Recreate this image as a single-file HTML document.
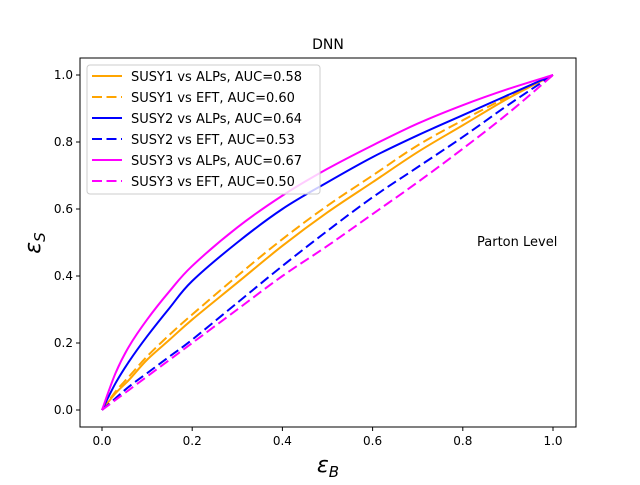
<!DOCTYPE html>
<html><head><meta charset="utf-8"><style>
body{margin:0;background:#fff}
svg text{font-family:"DejaVu Sans","Liberation Sans",sans-serif;fill:#000}
</style></head><body>
<svg width="640" height="480" xmlns="http://www.w3.org/2000/svg">
<rect width="640" height="480" fill="#fff"/>
<text x="328" y="49" font-size="14" text-anchor="middle">DNN</text>
<g id="plot"></g>
<rect x="80" y="58" width="496" height="369" fill="none" stroke="#000" stroke-width="1"/>
<g id="ticks"></g>
<text x="328" y="472" font-size="22" text-anchor="middle" font-style="italic">ε<tspan font-size="15" dy="5">B</tspan></text>
<text transform="translate(40,243) rotate(-90)" font-size="22" text-anchor="middle" font-style="italic">ε<tspan font-size="15" dy="5">S</tspan></text>
<text x="477" y="246" font-size="13">Parton Level</text>
<g id="legend">
<rect x="87" y="65" width="233" height="129" rx="3" fill="#fff" fill-opacity="0.8" stroke="#ccc"/>
</g>
</svg>
<script>
const xs=[0,0.03,0.06,0.1,0.15,0.2,0.3,0.4,0.5,0.6,0.7,0.8,0.9,1];
const s1alp=[0,0.05,0.09,0.15,0.21,0.27,0.38,0.49,0.59,0.68,0.77,0.85,0.93,1];
const s1eft=[0,0.055,0.10,0.16,0.225,0.285,0.40,0.51,0.61,0.70,0.79,0.865,0.935,1];
const s2alp=[0,0.08,0.145,0.22,0.305,0.385,0.50,0.60,0.68,0.755,0.82,0.88,0.94,1];
const s2eft=[0,0.035,0.07,0.11,0.16,0.21,0.32,0.43,0.535,0.635,0.725,0.815,0.91,1];
const s3alp=[0,0.11,0.19,0.27,0.355,0.43,0.545,0.64,0.72,0.79,0.855,0.91,0.958,1];
const s3eft=[0,0.03,0.06,0.10,0.15,0.20,0.30,0.40,0.49,0.585,0.68,0.78,0.885,1];
const tickLabels=["0.0","0.2","0.4","0.6","0.8","1.0"];
const tickVals=[0,0.2,0.4,0.6,0.8,1];
const X=v=>102+v*451, Y=v=>410-v*335;
const NS="http://www.w3.org/2000/svg";
const series=[
 {n:"SUSY1 vs ALPs, AUC=0.58",d:s1alp,c:"orange",dash:false,id:"susy1-alps"},
 {n:"SUSY1 vs EFT, AUC=0.60",d:s1eft,c:"orange",dash:true,id:"susy1-eft"},
 {n:"SUSY2 vs ALPs, AUC=0.64",d:s2alp,c:"blue",dash:false,id:"susy2-alps"},
 {n:"SUSY2 vs EFT, AUC=0.53",d:s2eft,c:"blue",dash:true,id:"susy2-eft"},
 {n:"SUSY3 vs ALPs, AUC=0.67",d:s3alp,c:"magenta",dash:false,id:"susy3-alps"},
 {n:"SUSY3 vs EFT, AUC=0.50",d:s3eft,c:"magenta",dash:true,id:"susy3-eft"}];
const plot=document.getElementById('plot'),leg=document.getElementById('legend'),tk=document.getElementById('ticks');
function smooth(pts){
 let d='M'+pts[0][0]+','+pts[0][1];
 for(let i=0;i<pts.length-1;i++){
  const p0=pts[Math.max(0,i-1)],p1=pts[i],p2=pts[i+1],p3=pts[Math.min(pts.length-1,i+2)];
  const c1=[p1[0]+(p2[0]-p0[0])/6,p1[1]+(p2[1]-p0[1])/6];
  const c2=[p2[0]-(p3[0]-p1[0])/6,p2[1]-(p3[1]-p1[1])/6];
  d+=' C'+c1[0]+','+c1[1]+' '+c2[0]+','+c2[1]+' '+p2[0]+','+p2[1];
 }
 return d;
}
series.forEach((s,i)=>{
 const p=document.createElementNS(NS,'path');
 p.setAttribute('d',smooth(xs.map((x,j)=>[X(x),Y(s.d[j])])));
 p.setAttribute('fill','none');p.setAttribute('stroke',s.c);p.setAttribute('stroke-width','2');
 if(s.dash)p.setAttribute('stroke-dasharray','10,4.5');
 
 
 plot.appendChild(p);
 const y=76+i*21;
 const l=document.createElementNS(NS,'line');
 l.setAttribute('x1',92);l.setAttribute('x2',122);l.setAttribute('y1',y);l.setAttribute('y2',y);
 l.setAttribute('stroke',s.c);l.setAttribute('stroke-width','2');
 if(s.dash)l.setAttribute('stroke-dasharray','10,4.5');
 
 
 leg.appendChild(l);
 const t=document.createElementNS(NS,'text');
 t.setAttribute('x',131);t.setAttribute('y',y+5);t.setAttribute('font-size','13');
 t.textContent=s.n;
 
 
 leg.appendChild(t);
});
tickVals.forEach((v,i)=>{
 const a=document.createElementNS(NS,'line');
 a.setAttribute('x1',X(v));a.setAttribute('x2',X(v));a.setAttribute('y1',427);a.setAttribute('y2',431);a.setAttribute('stroke','#000');
 
 
 tk.appendChild(a);
 const t=document.createElementNS(NS,'text');
 t.setAttribute('x',X(v));t.setAttribute('y',445);t.setAttribute('font-size','12');t.setAttribute('text-anchor','middle');
 t.textContent=tickLabels[i];
 
 
 tk.appendChild(t);
 const b=document.createElementNS(NS,'line');
 b.setAttribute('x1',76);b.setAttribute('x2',80);b.setAttribute('y1',Y(v));b.setAttribute('y2',Y(v));b.setAttribute('stroke','#000');
 
 
 tk.appendChild(b);
 const u=document.createElementNS(NS,'text');
 u.setAttribute('x',73);u.setAttribute('y',Y(v)+4);u.setAttribute('font-size','12');u.setAttribute('text-anchor','end');
 u.textContent=tickLabels[i];
 
 
 tk.appendChild(u);
});
</script>
</body></html>
